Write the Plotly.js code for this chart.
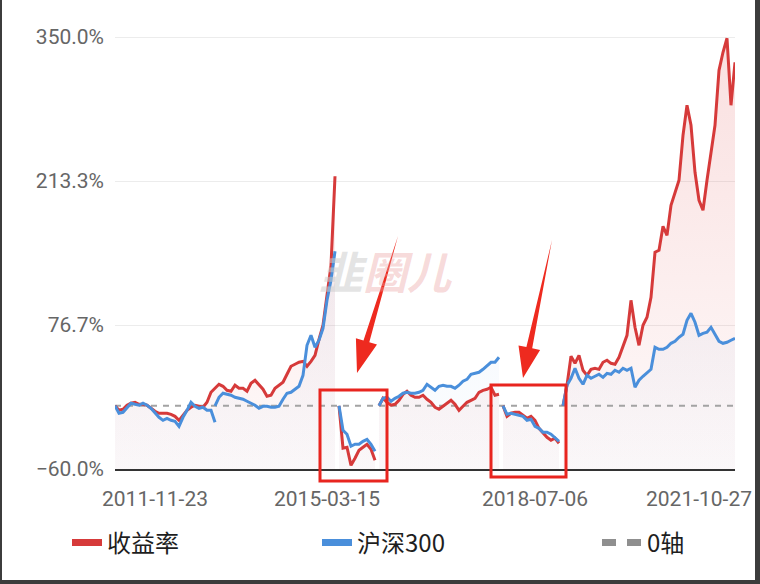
<!DOCTYPE html>
<html><head><meta charset="utf-8">
<script src="https://cdn.plot.ly/plotly-3.0.1.min.js"></script>
<style>
html,body{margin:0;padding:0;background:#fff;}
#wrap{position:relative;width:760px;height:584px;overflow:hidden;}
#chart{width:760px;height:584px;}
#frame{position:absolute;left:0;top:0;width:760px;height:584px;box-sizing:border-box;border-left:2px solid #3c3c3c;border-right:5px solid #3c3c3c;border-bottom:4px solid #3c3c3c;pointer-events:none;}
</style></head><body>
<div id="wrap"><div id="chart"></div><div id="frame"></div></div>
<script>
// ---- categories (dates) ----
const dates = [
'2011-01-28','2011-02-25','2011-03-25','2011-04-22','2011-05-20','2011-06-17','2011-07-15','2011-08-12','2011-09-09','2011-10-21',
'2011-11-23','2011-12-21','2012-01-18','2012-02-15','2012-03-14','2012-04-11','2012-05-09','2012-06-06','2012-07-04','2012-08-01',
'2012-08-29','2012-09-26','2012-10-24','2012-11-21','2012-12-19','2013-01-16','2013-02-13','2013-03-13','2013-04-10','2013-05-08',
'2013-06-05','2013-07-03','2013-07-31','2013-08-28','2013-09-25','2013-10-23','2013-11-20','2013-12-18','2014-01-15','2014-02-12',
'2014-03-12','2014-04-09','2014-05-07','2014-06-04','2014-07-02','2014-07-30','2014-08-27','2014-09-24','2014-10-22','2014-11-19',
'2014-12-17','2015-01-14','2015-02-11','2015-03-15','2015-04-07','2015-04-30','2015-05-23','2015-06-15','2015-07-08','2015-07-31',
'2015-08-23','2015-09-15','2015-10-08','2015-10-31','2015-11-23','2015-12-16','2016-01-08','2016-01-31','2016-02-23','2016-03-17',
'2016-04-09','2016-05-02','2016-05-25','2016-06-17','2016-07-10','2016-08-02','2016-08-25','2016-09-17','2016-10-10','2016-11-02',
'2016-11-25','2016-12-18','2017-01-10','2017-02-02','2017-02-25','2017-03-20','2017-04-12','2017-05-05','2017-05-28','2017-06-20',
'2017-07-13','2017-08-05','2017-08-28','2017-09-20','2017-10-13','2017-11-05','2017-11-28','2017-12-21','2018-01-13','2018-02-05',
'2018-02-28','2018-03-23','2018-04-15','2018-05-08','2018-05-31','2018-07-06','2018-08-04','2018-09-02','2018-10-01','2018-10-30',
'2018-11-28','2018-12-27','2019-01-25','2019-02-23','2019-03-24','2019-04-22','2019-05-21','2019-06-19','2019-07-18','2019-08-16',
'2019-09-14','2019-10-13','2019-11-11','2019-12-10','2020-01-08','2020-02-06','2020-03-06','2020-04-04','2020-05-03','2020-06-01',
'2020-06-30','2020-07-29','2020-08-27','2020-09-25','2020-10-24','2020-11-22','2020-12-21','2021-01-19','2021-02-17','2021-03-18',
'2021-04-16','2021-05-15','2021-06-13','2021-07-12','2021-08-10','2021-09-08','2021-10-27','2021-11-25','2021-12-24','2022-01-22',
'2022-02-20','2022-03-21','2022-04-19','2022-05-18','2022-06-16','2022-07-15'
];
const xTickDates = ['2011-11-23','2015-03-15','2018-07-06','2021-10-27'];
const yTickVals = [-60, 76.67, 213.33, 350];
const yTickText = ['\u221260.0%','76.7%','213.3%','350.0%'];
const seriesNames = ['收益率','沪深300','0轴'];

// ---- 收益率 (return, %) segments ----
const returnSeg1Start = '2011-01-28';
const returnSeg1 = [0,-4.3,-3.3,0.5,2.4,3.3,1.4,1.4,0.5,-2.4,-5.2,-7.1,-7.1,-7.1,-8.1,-10.0,-13.8,-9.0,-4.3,-1.4,0.5,-0.5,-1.4,3.3,12.8,16.6,20.4,18.5,14.7,13.8,19.5,16.6,16.6,13.8,21.4,24.2,20.4,15.7,9.0,10.0,16.6,19.5,22.3,29.9,37.5,39.4,41.3,42.2,37.5,42.2,47.9,63.1,76.4,104.9,133.3,217.8];
const returnSeg2Start = '2015-05-23';
const returnSeg2 = [0,-40.3,-39.4,-56.5,-49.8,-42.2,-39.4,-36.5,-41.3,-51.7];
const returnSeg3Start = '2016-01-08';
const returnSeg3 = [0,7.1,3.3,0.5,1.4,5.2,10.9,13.8,10.0,8.1,8.1,10.0,6.2,3.3,-1.4,-3.3,-0.5,2.4,5.2,1.4,-4.3,-0.5,3.3,5.2,7.1,12.8,14.7,15.7,17.6,10.0,10.9];
const returnSeg4Start = '2017-12-21';
const returnSeg4 = [0,-10.0,-7.1,-6.2,-6.2,-9.0,-11.9,-10.0,-13.8,-21.4,-26.1,-29.9,-32.7,-30.8,-35.6];
const returnSeg5Start = '2019-01-25';
const returnSeg5 = [0,19.5,47.0,40.3,47.9,33.7,28.9,34.6,35.6,34.6,41.3,43.2,40.3,39.4,46.0,57.4,66.9,100.1,74.5,57.4,76.4,84.0,103.0,145.7,147.6,170.4,161.8,190.3,202.6,214.0,256.7,285.2,266.2,221.6,195.0,185.6,214.0,242.5,266.2,318.4,335.5,348.8,285.2,326.0];

// ---- 沪深300 (%) segments ----
const hs300Seg1Start = '2011-01-28';
const hs300Seg1 = [0,-7.1,-6.2,-1.4,2.4,1.4,0.5,2.4,0.5,-2.4,-7.1,-10.9,-13.8,-11.9,-13.8,-14.7,-19.5,-10.9,-4.3,3.3,-0.5,-2.4,-1.4,-4.3,-4.3,-15.7];
const hs300Seg2Start = '2013-01-16';
const hs300Seg2 = [0,8.1,11.9,10.9,10.0,8.1,7.1,6.2,4.3,2.4,0.5,-2.4,-0.5,-0.5,-1.4,-1.4,-0.5,6.2,11.9,12.8,15.7,18.5,28.9,57.4,66.9,55.5,62.2,73.5,100.1,119.1,146.6];
const hs300Seg3Start = '2015-05-23';
const hs300Seg3 = [0,-23.3,-27.0,-38.4,-36.5,-36.5,-33.7,-31.8,-36.5,-43.2];
const hs300Seg4Start = '2016-01-08';
const hs300Seg4 = [0,7.1,8.1,4.3,7.1,9.0,11.9,12.8,11.9,11.9,12.8,14.7,20.4,17.6,14.7,18.5,19.5,18.5,18.5,16.6,19.5,23.3,25.1,29.9,30.8,31.8,34.6,37.5,41.3,41.3,46.0];
const hs300Seg5Start = '2017-12-21';
const hs300Seg5 = [0,-8.1,-7.1,-8.1,-9.0,-10.0,-13.8,-12.8,-19.5,-21.4,-25.1,-25.1,-27.0,-29.9,-33.7];
const hs300Seg6Start = '2019-01-25';
const hs300Seg6 = [0,19.5,26.1,35.6,26.1,20.4,28.9,26.1,28.0,29.9,27.0,30.8,29.9,33.7,31.8,35.6,33.7,35.6,17.6,24.2,28.0,31.8,34.6,55.5,53.6,53.6,55.5,59.3,61.2,65.0,67.9,81.1,87.8,79.3,66.9,68.8,69.8,74.5,67.9,61.2,59.3,60.3,62.2,64.1];

const zeroLine = [0, 0];

// ---- build ----
const Y_MIN = -60;
const RED = '#d63a3a', BLUE = '#4a8fdb', GRAY = '#a3a3a3';
const redSegs = [[returnSeg1Start,returnSeg1],[returnSeg2Start,returnSeg2],[returnSeg3Start,returnSeg3],[returnSeg4Start,returnSeg4],[returnSeg5Start,returnSeg5]];
const blueSegs = [[hs300Seg1Start,hs300Seg1],[hs300Seg2Start,hs300Seg2],[hs300Seg3Start,hs300Seg3],[hs300Seg4Start,hs300Seg4],[hs300Seg5Start,hs300Seg5],[hs300Seg6Start,hs300Seg6]];
function segX(start, vals){ const i0 = dates.indexOf(start); return dates.slice(i0, i0 + vals.length); }

const traces = [];
function addFills(segs, rgb, aTop, aBot){
  segs.forEach(([s, v]) => {
    const x = segX(s, v);
    traces.push({x, y: v.map(() => Y_MIN), type:'scatter', mode:'lines', line:{width:0}, hoverinfo:'skip', showlegend:false});
    traces.push({x, y: v, type:'scatter', mode:'lines', line:{width:0}, fill:'tonexty', hoverinfo:'skip', showlegend:false,
      fillcolor:'rgba('+rgb+','+aBot+')',
      fillgradient:{type:'vertical', start:-60, stop:350, colorscale:[[0,'rgba('+rgb+','+aBot+')'],[1,'rgba('+rgb+','+aTop+')']]}});
  });
}
addFills(redSegs, '222,70,70', 0.17, 0.03);
addFills(blueSegs, '74,143,219', 0.09, 0.02);

traces.push({x:[dates[0], dates[dates.length-1]], y: zeroLine, type:'scatter', mode:'lines',
  line:{color:GRAY, width:2, dash:'6px,6px'}, showlegend:false, hoverinfo:'skip'});

redSegs.forEach(([s, v]) => traces.push({x: segX(s, v), y: v, type:'scatter', mode:'lines', name: seriesNames[0],
  line:{color:RED, width:3}, showlegend:false}));
blueSegs.forEach(([s, v]) => traces.push({x: segX(s, v), y: v, type:'scatter', mode:'lines', name: seriesNames[1],
  line:{color:BLUE, width:3}, showlegend:false}));

// legend entries
traces.push({x:[null], y:[null], type:'scatter', mode:'lines', name: seriesNames[0], line:{color:RED, width:7}, legend:'legend'});
traces.push({x:[null], y:[null], type:'scatter', mode:'lines', name: seriesNames[1], line:{color:BLUE, width:7}, legend:'legend2'});
traces.push({x:[null], y:[null], type:'scatter', mode:'lines', name: seriesNames[2], line:{color:'#8f8f8f', width:7, dash:'14px,11px'}, legend:'legend3'});

const px = v => (v - 115) / 620;
const py = v => (469 - v) / 438;
const legFont = {family:'"Noto Sans CJK SC", "Noto Sans", sans-serif', size:24, color:'#1e1e1e'};
const legBase = {orientation:'h', xanchor:'left', yanchor:'middle', y: py(543), font: legFont, bgcolor:'rgba(0,0,0,0)', borderwidth:0};

const tickFont = {family:'Roboto, "Noto Sans", sans-serif', size:21, color:'#666'};
const layout = {
  width:760, height:584,
  margin:{l:115, r:25, t:31, b:115},
  paper_bgcolor:'#fff', plot_bgcolor:'#fff',
  xaxis:{type:'category', categoryorder:'array', categoryarray: dates, range:[0, dates.length-1],
    tickmode:'array', tickvals: xTickDates, ticktext: xTickDates, tickfont: tickFont,
    showgrid:false, zeroline:false, showline:true, linecolor:'#333', linewidth:2, ticks:'', ticklabelstandoff:10, fixedrange:true},
  yaxis:{range:[-60, 355.7], tickmode:'array', tickvals: yTickVals, ticktext: yTickText, tickfont: tickFont,
    showgrid:true, gridcolor:'#ececec', gridwidth:1, zeroline:false, showline:false, ticks:'', ticklabelstandoff:10, fixedrange:true},
  legend: Object.assign({}, legBase, {x: px(67), itemwidth:30}),
  legend2: Object.assign({}, legBase, {x: px(317), itemwidth:30}),
  legend3: Object.assign({}, legBase, {x: px(597), itemwidth:40}),
  showlegend:true,
  annotations:[{
    xref:'paper', yref:'paper', x: px(385), y: py(270), showarrow:false,
    text:'<span style="color:rgba(205,205,205,0.55)">韭</span><span style="color:rgba(235,160,160,0.4)">圈儿</span>',
    font:{family:'"Noto Sans CJK SC", sans-serif', size:44, weight:'bold', style:'italic'}
  }],
  shapes:[
    {type:'rect', xref:'paper', yref:'paper', x0: px(320), x1: px(387), y0: py(481), y1: py(390), line:{color:'#e8251f', width:3}, layer:'above'},
    {type:'rect', xref:'paper', yref:'paper', x0: px(491), x1: px(566), y0: py(477), y1: py(385), line:{color:'#e8251f', width:3}, layer:'above'},
    {type:'path', xref:'paper', yref:'paper', fillcolor:'#ee2a1f', line:{width:0}, layer:'above',
      path:'M'+px(398)+','+py(236)+' L'+px(369.3)+','+py(342.3)+' L'+px(377)+','+py(344.6)+' L'+px(357)+','+py(373)+' L'+px(355.9)+','+py(338.2)+' L'+px(363.5)+','+py(340.5)+' Z'},
    {type:'path', xref:'paper', yref:'paper', fillcolor:'#ee2a1f', line:{width:0}, layer:'above',
      path:'M'+px(552)+','+py(240)+' L'+px(532.2)+','+py(348.3)+' L'+px(540.1)+','+py(350)+' L'+px(523)+','+py(378)+' L'+px(518.5)+','+py(345.4)+' L'+px(526.4)+','+py(347.1)+' Z'}
  ]
};
Plotly.newPlot('chart', traces, layout, {displayModeBar:false, staticPlot:true});
</script>
</body></html>
